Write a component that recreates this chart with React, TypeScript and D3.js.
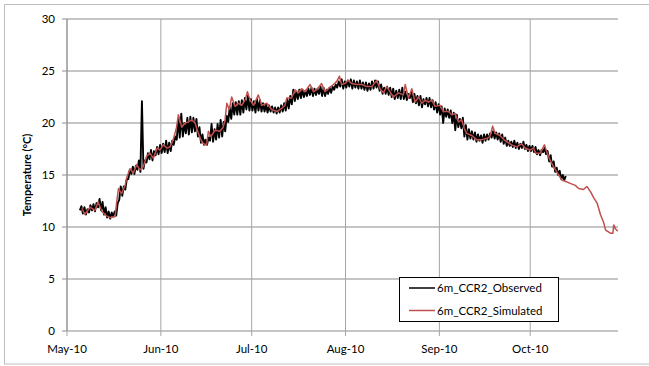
import React from 'react';
import * as d3 from 'd3';

// days after 1 May 2010 and temperature (°C), red simulated series
const simDays = [4.9, 5.9, 7.6, 9.2, 10.3, 11.5, 12.9, 14.2, 15.9, 16.4, 17.0, 18.0, 19.2, 19.7, 20.3, 20.8, 21.9, 23.0, 24.1, 25.2, 26.3, 27.4, 28.5, 29.8, 30.7, 31.8, 33.0, 34.0, 35.1, 36.2, 36.8, 37.9, 39.0, 40.0, 41.2, 42.3, 43.4, 44.5, 45.6, 46.1, 46.7, 47.5, 48.9, 50.5, 51.6, 52.2, 52.8, 53.6, 54.4, 55.5, 56.6, 57.7, 58.8, 59.6, 60.5, 61.6, 63.2, 64.3, 66.0, 67.6, 69.3, 70.9, 72.0, 72.6, 74.2, 75.3, 76.4, 77.5, 78.6, 80.3, 81.4, 82.5, 84.1, 85.2, 86.3, 88.0, 89.1, 90.0, 90.7, 91.8, 92.9, 94.0, 95.7, 97.4, 99.0, 100.7, 102.3, 103.4, 104.5, 105.6, 106.7, 107.8, 109.5, 111.1, 111.7, 112.8, 113.9, 115.0, 116.1, 117.2, 118.3, 119.4, 120.5, 121.6, 123.2, 124.3, 126.0, 127.1, 128.2, 129.3, 130.4, 131.2, 132.0, 133.7, 135.3, 137.0, 138.6, 139.7, 140.6, 141.4, 143.0, 144.7, 146.9, 148.5, 150.2, 151.3, 153.0, 154.1, 154.8, 156.3, 157.7, 158.5, 159.6, 160.7, 162.4, 163.5, 164.6, 166.2, 167.9, 169.0, 170.6, 171.7, 172.9, 174.0, 175.1, 176.2, 177.3, 177.9, 179.5, 180.3, 180.6, 181.2, 181.9];
const simTemps = [11.8, 11.2, 11.9, 11.6, 12.4, 11.5, 11.1, 10.9, 11.0, 12.4, 13.7, 13.2, 14.0, 14.7, 15.2, 15.6, 15.2, 16.0, 15.5, 15.8, 16.8, 17.1, 16.6, 17.6, 17.4, 17.9, 17.6, 17.7, 18.4, 19.6, 20.8, 19.6, 20.0, 20.1, 20.3, 20.0, 19.0, 18.2, 17.9, 17.9, 19.2, 18.7, 19.3, 19.2, 19.6, 20.3, 21.9, 21.3, 22.5, 21.6, 21.9, 21.7, 22.2, 23.0, 22.2, 21.7, 22.7, 21.7, 21.9, 21.3, 21.1, 21.4, 21.7, 22.4, 22.4, 23.2, 22.9, 23.3, 23.0, 23.7, 23.0, 23.2, 23.8, 23.0, 23.3, 23.7, 24.0, 24.5, 23.7, 23.8, 24.1, 23.8, 23.7, 23.7, 23.5, 23.5, 24.1, 23.3, 22.9, 23.5, 23.0, 22.5, 22.9, 22.7, 23.7, 22.4, 23.3, 22.0, 22.5, 21.9, 22.2, 22.0, 22.2, 21.6, 21.7, 21.1, 21.1, 20.8, 20.9, 20.1, 20.3, 19.5, 19.0, 18.8, 18.4, 18.4, 18.5, 18.7, 19.7, 19.0, 18.8, 18.3, 17.9, 17.7, 18.0, 17.6, 17.4, 17.6, 17.1, 17.1, 17.9, 17.2, 16.4, 15.8, 15.0, 14.5, 14.4, 14.2, 14.0, 13.7, 13.6, 13.9, 13.4, 12.8, 12.3, 11.2, 10.4, 9.7, 9.4, 9.4, 10.2, 9.8, 9.6];

// observed series: daily low / high from day 4 (5 May) to day 164
const obsFirstDay = 4;
const obsLow = [11.6, 11.3, 11.2, 11.4, 11.6, 11.5, 11.9, 11.6, 11.2, 10.9, 10.8, 11.0, 11.1, 12.6, 13.0, 13.6, 14.6, 15.1, 15.1, 15.5, 15.3, 15.6, 16.2, 16.5, 16.4, 16.9, 17.0, 17.1, 17.2, 17.1, 17.3, 17.9, 18.4, 18.6, 18.7, 19.0, 18.9, 19.1, 19.2, 18.7, 18.1, 17.9, 17.9, 18.3, 18.2, 18.4, 18.6, 18.7, 19.2, 20.1, 20.4, 20.8, 20.8, 20.8, 21.0, 21.3, 21.2, 21.2, 21.0, 21.2, 21.1, 21.1, 21.0, 21.1, 21.0, 20.9, 21.0, 21.1, 21.2, 21.4, 21.8, 22.1, 22.3, 22.4, 22.5, 22.6, 22.7, 22.6, 22.7, 22.8, 22.6, 22.6, 22.8, 22.9, 23.2, 23.4, 23.5, 23.3, 23.4, 23.5, 23.3, 23.4, 23.3, 23.3, 23.2, 23.1, 23.2, 23.3, 23.4, 23.1, 22.8, 22.8, 22.7, 22.5, 22.3, 22.4, 22.3, 22.3, 22.2, 22.4, 22.0, 21.9, 21.7, 21.5, 21.8, 21.6, 21.5, 21.3, 21.0, 20.8, 20.0, 20.6, 20.5, 20.0, 19.3, 19.6, 19.5, 18.7, 18.4, 18.5, 18.4, 18.2, 18.3, 18.1, 18.3, 18.4, 18.6, 18.5, 18.4, 18.2, 18.0, 17.8, 17.8, 17.7, 17.6, 17.5, 17.6, 17.5, 17.3, 17.3, 17.2, 17.0, 16.9, 17.2, 17.0, 16.3, 15.8, 15.3, 15.0, 14.6, 14.5];
const obsHigh = [12.0, 11.9, 11.7, 12.1, 12.2, 12.3, 12.7, 12.4, 11.9, 11.5, 11.4, 11.5, 12.3, 13.9, 13.9, 14.6, 15.5, 15.8, 15.9, 16.4, 22.1, 16.4, 17.1, 17.4, 17.3, 17.7, 17.9, 18.0, 18.3, 18.1, 18.3, 18.7, 20.4, 20.9, 20.0, 20.5, 20.6, 20.5, 20.4, 19.6, 18.9, 18.4, 18.6, 19.9, 19.4, 19.9, 20.3, 20.1, 20.7, 21.5, 21.9, 22.0, 22.1, 22.2, 22.4, 22.6, 22.3, 22.1, 22.3, 22.2, 21.9, 21.8, 21.7, 21.6, 21.5, 21.5, 21.7, 21.9, 22.3, 22.6, 23.2, 23.0, 23.2, 23.2, 23.1, 23.3, 23.4, 23.3, 23.3, 23.5, 23.4, 23.2, 23.4, 23.5, 23.7, 24.0, 24.2, 24.0, 24.1, 24.2, 24.1, 24.0, 24.1, 23.9, 23.9, 23.8, 24.0, 24.1, 24.0, 23.7, 23.4, 23.5, 23.4, 23.3, 23.1, 23.2, 23.4, 23.0, 22.8, 23.0, 22.8, 22.6, 22.6, 22.3, 22.4, 22.4, 22.2, 22.0, 21.8, 21.6, 21.4, 21.3, 21.2, 21.0, 20.8, 20.4, 20.5, 19.8, 19.4, 19.2, 19.1, 18.9, 18.8, 18.9, 18.9, 19.0, 19.2, 19.1, 19.0, 18.9, 18.6, 18.3, 18.2, 18.3, 18.1, 18.0, 18.2, 17.9, 17.8, 17.8, 17.7, 17.4, 17.4, 17.6, 17.3, 16.9, 16.3, 15.7, 15.4, 15.0, 14.9];

const yTicks = [0, 5, 10, 15, 20, 25, 30];
const seriesNames = ['6m_CCR2_Observed', '6m_CCR2_Simulated'];
const seriesColors = ['#000000', '#c0504d'];

const W = 649;
const H = 366;
const margin = { left: 67, top: 19, right: 31, bottom: 35 };
const start = new Date(2010, 4, 1);
const end = new Date(2010, 9, 30);
const dayToDate = (d: number) => new Date(start.getTime() + d * 86400000);

export default function App() {
  const x = d3.scaleTime().domain([start, end]).range([margin.left, W - margin.right]);
  const y = d3.scaleLinear().domain([0, 30]).range([H - margin.bottom, margin.top]);
  const months = d3.timeMonth.range(start, end);
  const fmt = d3.timeFormat('%b-%y');

  const simPts: [number, number][] = simDays.map((d, i) => [d, simTemps[i]]);
  // observed drawn as a low/high zigzag so it reads as a noisy band
  const obsPts: [number, number][] = [];
  obsLow.forEach((lo, i) => {
    const d = obsFirstDay + i;
    obsPts.push([d + 0.25, lo]);
    obsPts.push([d + 0.75, obsHigh[i]]);
  });

  const line = d3.line<[number, number]>()
    .x(p => x(dayToDate(p[0])))
    .y(p => y(p[1]));

  const x0 = margin.left;
  const x1 = W - margin.right;
  const y0 = H - margin.bottom;
  const font = 'Lato, "Open Sans", sans-serif';

  return (
    <div style={{ position: 'absolute', left: 0, top: 0 }}>
      <svg width={W} height={H} style={{ display: 'block', background: '#fff' }}>
        <rect x={4.5} y={4.5} width={W + 5} height={359.5} fill="#fff" stroke="#bfbfbf" strokeWidth={1} />
        {yTicks.map(t => (
          <g key={'y' + t}>
            <line x1={x0 - 5} x2={x1} y1={y(t)} y2={y(t)} stroke="#8c8c8c" strokeWidth={1} />
            <text x={x0 - 12} y={y(t)} dy="0.35em" textAnchor="end" fontSize={11.5} fontFamily={font} fill="#000">{t}</text>
          </g>
        ))}
        {months.map(m => (
          <g key={m.toISOString()}>
            <line x1={x(m)} x2={x(m)} y1={margin.top} y2={y0 + 5} stroke="#a6a6a6" strokeWidth={1} />
            <text x={x(m)} y={y0 + 22} textAnchor="middle" fontSize={11.5} fontFamily={font} fill="#000">{fmt(m)}</text>
          </g>
        ))}
        <line x1={x0} x2={x0} y1={margin.top} y2={y0} stroke="#8c8c8c" strokeWidth={1} />
        <path d={line(obsPts) || ''} fill="none" stroke={seriesColors[0]} strokeWidth={1.9} strokeLinejoin="round" />
        <path d={line(simPts) || ''} fill="none" stroke={seriesColors[1]} strokeWidth={1.5} strokeLinejoin="round" />
        <text transform={`translate(31,${(margin.top + y0) / 2}) rotate(-90)`} textAnchor="middle" fontSize={11} fontWeight="bold" fontFamily={font} fill="#000">Temperature (°C)</text>
        <rect x={399.5} y={277.5} width={159} height={44} fill="#fff" stroke="#000" strokeWidth={1} />
        {seriesNames.map((n, i) => (
          <g key={n}>
            <line x1={409} x2={435} y1={288 + i * 22.5} y2={288 + i * 22.5} stroke={seriesColors[i]} strokeWidth={1.5} />
            <text x={437} y={288 + i * 22.5} dy="0.35em" fontSize={11.5} fontFamily={font} fill="#000">{n}</text>
          </g>
        ))}
      </svg>
    </div>
  );
}
